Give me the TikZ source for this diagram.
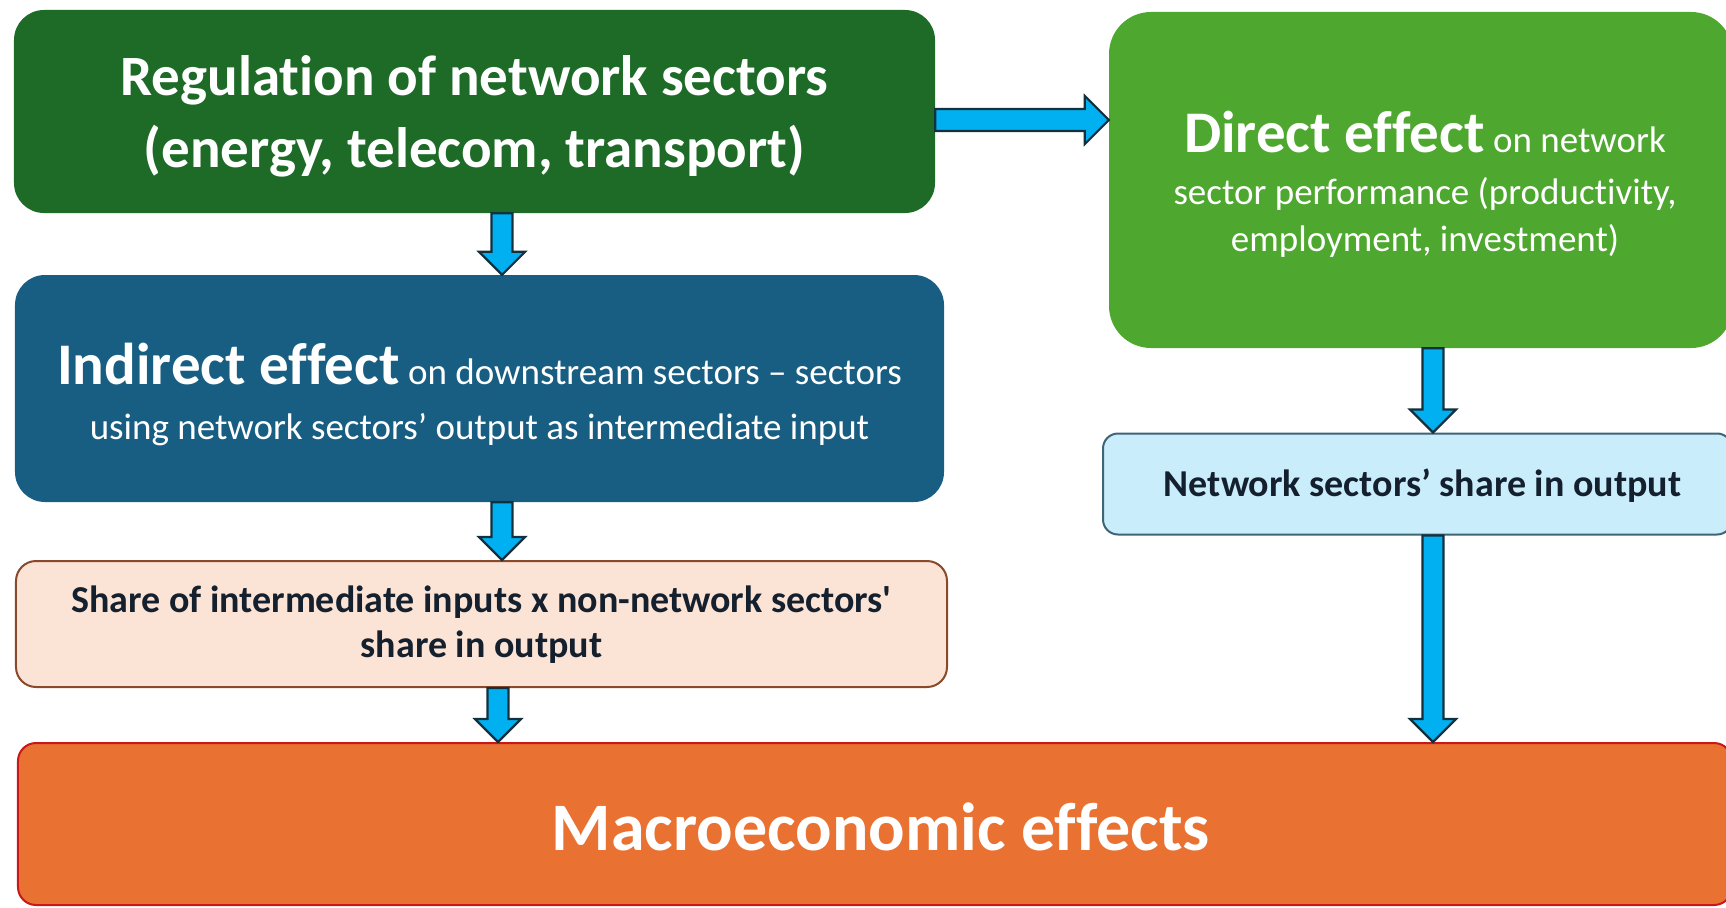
\documentclass[tikz,border=0pt]{standalone}
\usepackage{fontspec}
\setmainfont{Carlito}[Ligatures=NoCommon]
% same family without the TeX quote mapping, for a straight apostrophe
\newfontfamily\plainfont{Carlito}[Ligatures=NoCommon]
\usetikzlibrary{calc}

\definecolor{regGreen}{HTML}{1D6B27}
\definecolor{directGreen}{HTML}{4EA72E}
\definecolor{indirectBlue}{HTML}{185E82}
\definecolor{sharePeach}{HTML}{FBE3D6}
\definecolor{shareEdge}{HTML}{8A4A2A}
\definecolor{outLight}{HTML}{CAEDFB}
\definecolor{outEdge}{HTML}{3E6478}
\definecolor{macroOrange}{HTML}{E97132}
\definecolor{macroEdge}{HTML}{C8191A}
\definecolor{arrowFill}{HTML}{00B0F0}
\definecolor{arrowEdge}{HTML}{13303F}
\definecolor{darkText}{HTML}{14202E}

% fonts in bp so that sizes read directly in picture units
\newcommand{\fsz}[2]{\fontsize{#1bp}{#2bp}\selectfont}

% vertical block arrow from #1 (top) down to the tip #2
\newcommand{\vblock}[2]{%
  \draw[blockarrow] ($(#1)+(-10.5,0)$) -- ($(#2)+(-10.5,-23)$) -- ($(#2)+(-23,-23)$)
    -- (#2) -- ($(#2)+(23,-23)$) -- ($(#2)+(10.5,-23)$) -- ($(#1)+(10.5,0)$) -- cycle;}
% horizontal block arrow from #1 (left) to the tip #2
\newcommand{\hblock}[2]{%
  \draw[blockarrow] ($(#1)+(0,-11)$) -- ($(#2)+(-24,-11)$) -- ($(#2)+(-24,-24)$)
    -- (#2) -- ($(#2)+(-24,24)$) -- ($(#2)+(-24,11)$) -- ($(#1)+(0,11)$) -- cycle;}

\begin{document}
\begin{tikzpicture}[x=1bp,y=-1bp,
  box/.style={rectangle, inner sep=0pt},
  txt/.style={inner sep=0pt, align=center},
  blockarrow/.style={fill=arrowFill, draw=arrowEdge, line width=2.2bp, line join=miter}]
\useasboundingbox (0,0) rectangle (1726,907);
\clip (0,0) rectangle (1726,907);

% boxes
\node[box, fill=regGreen, rounded corners=30bp, minimum width=921bp, minimum height=203bp] (reg) at (474.5,111.5) {};
\node[box, fill=directGreen, rounded corners=42bp, minimum width=624bp, minimum height=336bp] (direct) at (1421,180) {};
\node[box, fill=indirectBlue, rounded corners=30bp, minimum width=929bp, minimum height=227bp] (indirect) at (479.5,388.5) {};
\node[box, fill=sharePeach, draw=shareEdge, line width=2bp, rounded corners=20bp,
      minimum width=931bp, minimum height=126bp] (share) at (481.5,624) {};
\node[box, fill=outLight, draw=outEdge, line width=2bp, rounded corners=15bp,
      minimum width=629bp, minimum height=101bp] (netshare) at (1417.5,484) {};
\node[box, fill=macroOrange, draw=macroEdge, line width=2bp, rounded corners=18bp,
      minimum width=1714bp, minimum height=162bp] (macro) at (875,824) {};

% texts
\node[txt, text=white, font=\fsz{57}{72}\bfseries] (regtxt) at ([yshift=-5bp]reg.center)
  {Regulation of network sectors\\(energy, telecom, transport)};

\node[txt, text=white, font=\fsz{37}{47}] (directtxt) at ([xshift=4bp,yshift=-4bp]direct.center)
  {{\fsz{59}{60}\bfseries Direct effect} on network\\[5bp]
   sector performance (productivity,\\employment, investment)};

\node[txt, text=white, font=\fsz{37}{47}] (indirecttxt) at ([yshift=-6bp]indirect.center)
  {{\fsz{59}{60}\bfseries Indirect effect} on downstream sectors – sectors\\[7.5bp]
   using network sectors’ output as intermediate input};

\node[txt, text=darkText, font=\plainfont\fsz{38}{45}\bfseries] (sharetxt) at ([yshift=-1bp]share.center)
  {Share of intermediate inputs x non-network sectors'\\share in output};

\node[txt, text=darkText, font=\fsz{38}{45}\bfseries] (netsharetxt) at ([xshift=5bp,yshift=-2bp]netshare.center)
  {Network sectors’ share in output};

\node[txt, text=white, font=\fsz{68}{72}\bfseries] (macrotxt) at ([xshift=6bp,yshift=-3bp]macro.center)
  {Macroeconomic effects};

% x positions of the connectors
\coordinate (xl) at (502,0);
\coordinate (xs) at (498,0);
\coordinate (xr) at (1433,0);
\coordinate (yh) at (0,120);

\coordinate (a1s) at (reg.south -| xl);
\coordinate (a1t) at (indirect.north -| xl);
\coordinate (a2s) at (indirect.south -| xl);
\coordinate (a2t) at (share.north -| xl);
\coordinate (a3s) at (share.south -| xs);
\coordinate (a3t) at (macro.north -| xs);
\coordinate (b1s) at (direct.south -| xr);
\coordinate (b1t) at (netshare.north -| xr);
\coordinate (b2s) at (netshare.south -| xr);
\coordinate (b2t) at (macro.north -| xr);
\coordinate (hs) at (reg.east |- yh);
\coordinate (ht) at (direct.west |- yh);

% connectors
\hblock{hs}{ht}
\vblock{a1s}{a1t}
\vblock{a2s}{a2t}
\vblock{a3s}{a3t}
\vblock{b1s}{b1t}
\vblock{b2s}{b2t}
\end{tikzpicture}
\end{document}
